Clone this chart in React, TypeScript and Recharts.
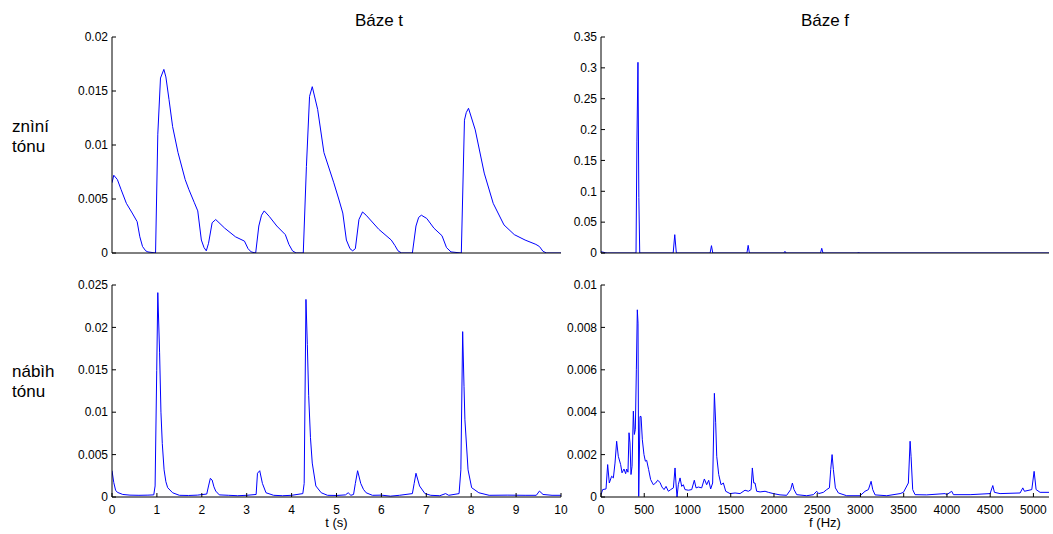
import { Line, LineChart, XAxis, YAxis } from "recharts";

// znění tónu, časová báze: [t (s), amplituda]
const sustainTime: [number, number][] = [
  [0, 0.0065], [0.04, 0.0072], [0.12, 0.0068], [0.2, 0.0059], [0.32, 0.0046], [0.45, 0.0037],
  [0.56, 0.0029], [0.62, 0.0015], [0.68, 0.0006], [0.75, 0.0002], [0.8, 0.0001], [0.97, 0],
  [1.02, 0.011], [1.08, 0.0162], [1.155, 0.017], [1.2, 0.0163], [1.27, 0.0142], [1.35, 0.0117],
  [1.47, 0.0093], [1.63, 0.0068], [1.71, 0.0059], [1.83, 0.0047], [1.91, 0.0039], [1.99, 0.0012],
  [2.05, 0.0005], [2.1, 0.0002], [2.15, 0.0009], [2.23, 0.0028], [2.31, 0.0031], [2.51, 0.0023],
  [2.75, 0.0015], [2.95, 0.0011], [3.03, 0.0004], [3.1, 0.0001], [3.2, 0], [3.27, 0.0025],
  [3.33, 0.0035], [3.39, 0.0039], [3.5, 0.0034], [3.67, 0.0025], [3.86, 0.0017], [3.94, 0.0008],
  [4.02, 0.0002], [4.1, 0], [4.26, 0], [4.33, 0.008], [4.4, 0.0145], [4.46, 0.0154], [4.58, 0.0133],
  [4.72, 0.0093], [4.94, 0.0065], [5.05, 0.005], [5.14, 0.0037], [5.22, 0.0012], [5.3, 0.0004],
  [5.36, 0.0002], [5.42, 0.0004], [5.5, 0.0031], [5.58, 0.0038], [5.66, 0.0035], [5.94, 0.0022],
  [6.22, 0.0012], [6.3, 0.0007], [6.37, 0.0002], [6.45, 0], [6.69, 0], [6.77, 0.0025], [6.83, 0.0033],
  [6.89, 0.0035], [7.01, 0.0032], [7.17, 0.0023], [7.35, 0.0016], [7.45, 0.0005], [7.55, 0.0001],
  [7.78, 0], [7.85, 0.0123], [7.89, 0.013], [7.94, 0.0134], [8.09, 0.0114], [8.29, 0.0074],
  [8.49, 0.0046], [8.73, 0.0026], [8.96, 0.0017], [9.2, 0.0012], [9.44, 0.0008], [9.52, 0.0006],
  [9.6, 0.00015], [9.68, 0], [10, 0],
];

// náběh tónu, časová báze
const attackTime: [number, number][] = [
  [0, 0.0031], [0.04, 0.0017], [0.08, 0.0008], [0.12, 0.00055], [0.24, 0.0003], [0.4, 0.00022],
  [0.6, 0.0002], [0.8, 0.00022], [0.93, 0.00025], [0.96, 0.0013], [0.996, 0.0149], [1.02, 0.0241],
  [1.06, 0.017], [1.09, 0.01], [1.12, 0.0063], [1.16, 0.0032], [1.2, 0.0018], [1.24, 0.0011],
  [1.35, 0.0005], [1.5, 0.0002], [1.7, 0.00018], [1.9, 0.00022], [2.11, 0.00035], [2.15, 0.0013],
  [2.19, 0.0022], [2.23, 0.002], [2.27, 0.0012], [2.31, 0.0007], [2.39, 0.00025], [2.6, 0.0002],
  [2.8, 0.00015], [3.0, 0.0002], [3.21, 0.0003], [3.24, 0.0028], [3.29, 0.0031], [3.35, 0.0016],
  [3.43, 0.0005], [3.6, 0.0002], [3.8, 0.00015], [4.0, 0.0002], [4.25, 0.0004], [4.28, 0.0016],
  [4.32, 0.0233], [4.35, 0.018], [4.38, 0.012], [4.42, 0.007], [4.46, 0.004], [4.54, 0.0013],
  [4.66, 0.0005], [4.8, 0.0002], [5.0, 0.00018], [5.2, 0.00025], [5.26, 0.0005], [5.32, 0.0002],
  [5.38, 0.0003], [5.42, 0.0016], [5.47, 0.0031], [5.54, 0.0016], [5.6, 0.0009], [5.66, 0.0005],
  [5.8, 0.0002], [6.0, 0.00022], [6.2, 0.0001], [6.4, 0.0002], [6.69, 0.0004], [6.73, 0.0016],
  [6.77, 0.0028], [6.85, 0.0013], [6.97, 0.0004], [7.1, 0.0002], [7.3, 0.00015], [7.43, 0.0004],
  [7.5, 0.0002], [7.73, 0.0004], [7.77, 0.0032], [7.81, 0.0195], [7.84, 0.013], [7.86, 0.0091],
  [7.93, 0.0032], [8.01, 0.0011], [8.17, 0.0005], [8.4, 0.0002], [8.8, 0.00022], [9.2, 0.0002],
  [9.45, 0.0002], [9.52, 0.0007], [9.6, 0.0003], [9.8, 0.0002], [10, 0.0002],
];

// znění tónu, frekvenční báze: [f (Hz), amplituda]
const sustainFreq: [number, number][] = [
  [0, 0.002], [20, 0.0015], [45, 0.0005], [70, 0], [398, 0], [408, 0.18], [420, 0.309], [430, 0.09],
  [440, 0], [820, 0], [838, 0.0297], [856, 0], [1240, 0], [1255, 0.0119], [1270, 0], [1658, 0],
  [1672, 0.0124], [1686, 0], [2078, 0], [2090, 0.0027], [2102, 0], [2494, 0], [2508, 0.0076],
  [2522, 0], [2915, 0], [2926, 0.0016], [2937, 0], [5090, 0],
];

// náběh tónu, frekvenční báze
const attackFreq: [number, number][] = [
  [0, 0.00011], [19, 0.00035], [58, 0.00038], [77, 0.00153], [96, 0.00066], [123, 0.00098],
  [143, 0.0009], [162, 0.0016], [181, 0.00263], [200, 0.00192], [227, 0.00153], [243, 0.00114],
  [266, 0.00132], [285, 0.0011], [297, 0.00132], [312, 0.00117], [324, 0.00303], [335, 0.00255],
  [347, 0.00106], [359, 0.00145], [374, 0.00405], [386, 0.00295], [397, 0.00319], [409, 0.00603],
  [420, 0.00883], [428, 0.0082], [436, 0.00003], [451, 0.0038], [463, 0.0038], [478, 0.0027],
  [497, 0.002], [513, 0.00169], [528, 0.00173], [551, 0.00129], [574, 0.00082], [605, 0.00058],
  [632, 0.00066], [655, 0.00079], [682, 0.00069], [705, 0.00047], [729, 0.00035], [752, 0.0005],
  [779, 0.00027], [806, 0.00035], [837, 0.00043], [856, 0.00137], [867, 0.00066], [879, 0],
  [894, 0.00058], [914, 0.0009], [933, 0.0005], [952, 0.00058], [971, 0.00035], [1010, 0.00032],
  [1049, 0.00035], [1079, 0.00079], [1099, 0.00043], [1126, 0.00047], [1164, 0.00043],
  [1195, 0.00085], [1222, 0.00058], [1245, 0.00079], [1268, 0.00038], [1291, 0.00066],
  [1311, 0.00489], [1326, 0.0035], [1338, 0.00192], [1361, 0.00106], [1388, 0.00058],
  [1415, 0.00066], [1442, 0.00027], [1492, 0.00016], [1550, 0.00019], [1608, 0.00016],
  [1665, 0.00032], [1704, 0.00027], [1735, 0.00035], [1750, 0.00137], [1766, 0.00066],
  [1781, 0.00066], [1800, 0.00027], [1839, 0.00024], [1897, 0.00027], [1935, 0.00022],
  [1993, 0.00016], [2070, 0.0001], [2147, 0.00008], [2193, 0.00035], [2213, 0.00066],
  [2232, 0.00035], [2263, 0.00011], [2378, 0.00006], [2456, 0.00011], [2494, 0.00027],
  [2517, 0.00016], [2571, 0.00022], [2610, 0.00035], [2641, 0.00043], [2656, 0.00129],
  [2672, 0.002], [2687, 0.00129], [2710, 0.00043], [2745, 0.00019], [2841, 0.00006],
  [2995, 0.00006], [3053, 0.00027], [3092, 0.00035], [3123, 0.00074], [3142, 0.00035],
  [3169, 0.0001], [3304, 0.00006], [3458, 0.00016], [3497, 0.00022], [3554, 0.00066],
  [3574, 0.00263], [3585, 0.00192], [3604, 0.00035], [3631, 0.00011], [3766, 0.0001],
  [3978, 0.00016], [3998, 0.00011], [4055, 0.00027], [4075, 0.00011], [4268, 0.00011],
  [4499, 0.00016], [4530, 0.00054], [4549, 0.00022], [4614, 0.00016], [4846, 0.00019],
  [4877, 0.00043], [4896, 0.00027], [4981, 0.00035], [5008, 0.00121], [5031, 0.00035],
  [5077, 0.00022], [5180, 0.00022],
];

const timeTicks = [0, 1, 2, 3, 4, 5, 6, 7, 8, 9, 10];
const freqTicks = [0, 500, 1000, 1500, 2000, 2500, 3000, 3500, 4000, 4500, 5000];
const sustainTimeTicks = [0, 0.005, 0.01, 0.015, 0.02];
const attackTimeTicks = [0, 0.005, 0.01, 0.015, 0.02, 0.025];
const sustainFreqTicks = [0, 0.05, 0.1, 0.15, 0.2, 0.25, 0.3, 0.35];
const attackFreqTicks = [0, 0.002, 0.004, 0.006, 0.008, 0.01];

const FONT = '"Liberation Sans", Arial, Helvetica, sans-serif';
const BLUE = "#0000ff";
const tickStyle = { fontSize: 12, fill: "#000" };
const PAD = 12;

type PanelProps = {
  left: number;
  top: number;
  width: number;
  height: number;
  points: [number, number][];
  xMax: number;
  xTicks: number[];
  yTicks: number[];
  xLabels?: boolean;
};

function Panel({ left, top, width, height, points, xMax, xTicks, yTicks, xLabels }: PanelProps) {
  const data = points.map(([x, v]) => ({ x, v }));
  const yMax = yTicks[yTicks.length - 1];
  return (
    <div style={{ position: "absolute", left: left - 70, top: top - PAD }}>
      <LineChart width={width + 70 + PAD} height={height + PAD + 30} data={data}
        margin={{ top: PAD, right: PAD, bottom: 0, left: 0 }}>
        <XAxis xAxisId="b" dataKey="x" type="number" domain={[0, xMax]} ticks={xTicks} allowDataOverflow
          height={30} stroke="#000" tickSize={-4} tickMargin={12} interval={0} tick={xLabels ? tickStyle : false} />
        <XAxis xAxisId="t" orientation="top" dataKey="x" type="number" domain={[0, xMax]} ticks={xTicks}
          allowDataOverflow height={0} stroke="#000" tickSize={-4} interval={0} tick={false} />
        <YAxis yAxisId="l" type="number" domain={[0, yMax]} ticks={yTicks} allowDataOverflow width={70}
          stroke="#000" tickSize={-4} tickMargin={8} interval={0} tick={tickStyle} />
        <YAxis yAxisId="r" orientation="right" type="number" domain={[0, yMax]} ticks={yTicks}
          allowDataOverflow width={0} stroke="#000" tickSize={-4} interval={0} tick={false} />
        <Line xAxisId="b" yAxisId="l" dataKey="v" type="linear" stroke={BLUE} strokeWidth={1}
          dot={false} activeDot={false} isAnimationActive={false} />
        <Line xAxisId="t" yAxisId="r" dataKey="v" type="linear" stroke="none" strokeOpacity={0}
          dot={false} activeDot={false} isAnimationActive={false} />
      </LineChart>
    </div>
  );
}

function Text({ cx, x, top, size, lh, children }: { cx?: number; x?: number; top: number; size: number; lh: number; children: React.ReactNode }) {
  const pos = cx !== undefined
    ? { left: cx - 100, width: 200, textAlign: "center" as const }
    : { left: x };
  return (
    <div style={{ position: "absolute", top, fontSize: size, lineHeight: `${lh}px`, color: "#000", whiteSpace: "nowrap", ...pos }}>
      {children}
    </div>
  );
}

export default function App() {
  return (
    <div style={{ position: "absolute", left: 0, top: 0, width: 1053, height: 534, background: "#fff", fontFamily: FONT, overflow: "hidden" }}>
      <Text cx={379} top={11} size={17} lh={20}>Báze t</Text>
      <Text cx={825} top={11} size={17} lh={20}>Báze f</Text>
      <Text x={12} top={117} size={17} lh={20}>znìní<br />tónu</Text>
      <Text x={12} top={362} size={17} lh={20}>nábìh<br />tónu</Text>

      <Panel left={112} top={37} width={449} height={216} points={sustainTime} xMax={10} xTicks={timeTicks} yTicks={sustainTimeTicks} />
      <Panel left={601} top={37} width={448} height={216} points={sustainFreq} xMax={5090} xTicks={freqTicks} yTicks={sustainFreqTicks} />
      <Panel left={112} top={285} width={449} height={212} points={attackTime} xMax={10} xTicks={timeTicks} yTicks={attackTimeTicks} xLabels />
      <Panel left={601} top={285} width={448} height={212} points={attackFreq} xMax={5180} xTicks={freqTicks} yTicks={attackFreqTicks} xLabels />

      <Text cx={336.5} top={516} size={13} lh={13}>t (s)</Text>
      <Text cx={825} top={516} size={13} lh={13}>f (Hz)</Text>
    </div>
  );
}
